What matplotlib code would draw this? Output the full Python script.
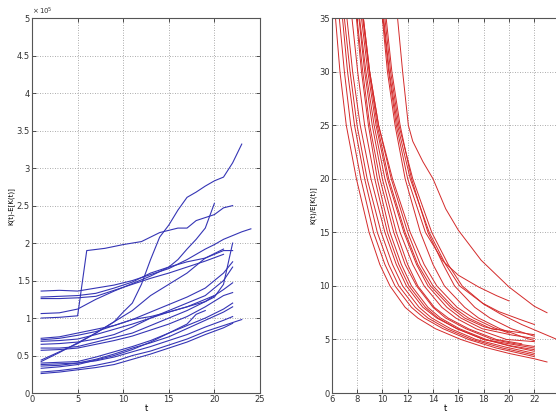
import matplotlib
matplotlib.use("Agg")
import matplotlib.pyplot as plt

# ---- left panel: K(t)-E[K(t)], in units of 1e5 ----
blue_t = [
    [1, 3, 5, 6, 8, 10, 12, 14, 16, 17, 18, 20, 21, 22],
    [1, 3, 5, 7, 9, 10, 11, 12, 13, 14, 15, 16, 17, 18, 19, 20, 21, 22, 23],
    [1, 3, 5, 7, 9, 11, 13, 15, 16, 17, 18, 19, 20],
    [1, 3, 5, 7, 9, 11, 13, 15, 17, 19, 20, 21, 22, 23, 24],
    [1, 3, 5, 7, 9, 11, 13, 15, 17, 19, 21, 22],
    [1, 3, 5, 7, 9, 11, 13, 15, 17, 19, 21],
    [1, 3, 5, 7, 9, 11, 13, 15, 17, 19, 20, 21, 22],
    [1, 3, 5, 7, 9, 11, 13, 15, 17, 19, 21, 22],
    [1, 3, 5, 7, 9, 11, 13, 15, 17, 19, 21, 22],
    [1, 3, 5, 7, 9, 11, 13, 15, 17, 19, 21, 22],
    [1, 3, 5, 7, 9, 11, 13, 15, 17, 19, 21, 22],
    [1, 3, 5, 7, 9, 11, 13, 15, 17, 19, 21],
    [1, 3, 5, 7, 9, 11, 13, 15, 17, 19, 21, 22],
    [1, 3, 5, 7, 9, 11, 13, 15, 17, 19, 21, 22],
    [1, 3, 5, 7, 9, 11, 13, 15, 17, 19, 21, 22],
    [1, 3, 5, 7, 9, 11, 13, 15, 17, 19, 21, 23],
    [1, 3, 5, 7, 9, 11, 13, 15, 17, 19, 21, 22],
    [1, 3, 5, 7, 9, 11, 13, 15, 17, 18, 19],
    [1, 3, 5, 7, 9, 11, 13, 15, 17, 19, 20],
]
blue_y = [
    [1.0, 1.01, 1.03, 1.9, 1.93, 1.98, 2.02, 2.14, 2.2, 2.2, 2.3, 2.38, 2.47, 2.5],
    [0.42, 0.54, 0.67, 0.8, 0.95, 1.08, 1.2, 1.45, 1.78, 2.08, 2.24, 2.44, 2.61, 2.68, 2.76, 2.83, 2.88, 3.07, 3.32],
    [1.06, 1.07, 1.12, 1.25, 1.36, 1.46, 1.56, 1.68, 1.78, 1.92, 2.05, 2.2, 2.53],
    [1.36, 1.37, 1.36, 1.4, 1.44, 1.5, 1.58, 1.66, 1.78, 1.92, 1.98, 2.05, 2.1, 2.15, 2.19],
    [1.28, 1.29, 1.3, 1.33, 1.4, 1.48, 1.6, 1.68, 1.75, 1.8, 1.9, 1.9],
    [1.26, 1.26, 1.27, 1.29, 1.37, 1.45, 1.53, 1.6, 1.68, 1.76, 1.85],
    [0.73, 0.75, 0.8, 0.85, 0.9, 0.98, 1.02, 1.08, 1.15, 1.22, 1.28, 1.45, 2.0],
    [0.71, 0.73, 0.77, 0.82, 0.9, 0.98, 1.08, 1.18, 1.28, 1.4, 1.6, 1.75],
    [0.65, 0.66, 0.68, 0.72, 0.78, 0.88, 1.0, 1.1, 1.2, 1.3, 1.5, 1.68],
    [0.6, 0.6, 0.62, 0.68, 0.74, 0.8, 0.9, 1.0, 1.1, 1.22, 1.38, 1.47],
    [0.57, 0.58, 0.6, 0.65, 0.7, 0.76, 0.84, 0.92, 1.02, 1.15, 1.3, 1.34],
    [0.44, 0.55, 0.66, 0.8, 0.95, 1.1, 1.3, 1.45, 1.6, 1.8, 1.92],
    [0.4, 0.41, 0.42, 0.48, 0.55, 0.62, 0.7, 0.8, 0.9, 1.0, 1.12, 1.2],
    [0.38, 0.39, 0.4, 0.45, 0.52, 0.6, 0.67, 0.75, 0.86, 0.97, 1.08, 1.15],
    [0.36, 0.37, 0.4, 0.43, 0.48, 0.55, 0.62, 0.7, 0.78, 0.88, 0.97, 1.02],
    [0.28, 0.3, 0.33, 0.37, 0.42, 0.5, 0.56, 0.64, 0.72, 0.82, 0.9, 0.98],
    [0.26, 0.28, 0.31, 0.34, 0.38, 0.45, 0.52, 0.6, 0.68, 0.78, 0.87, 0.93],
    [0.33, 0.35, 0.38, 0.44, 0.5, 0.58, 0.68, 0.8, 0.92, 1.05, 1.1],
    [0.69, 0.7, 0.72, 0.78, 0.85, 0.92, 1.0, 1.08, 1.15, 1.25, 1.3],
]

# ---- right panel: K(t)/E[K(t)] ----
red_t = [
    [6.3, 6.65, 7.15, 7.95, 8.95, 9.8, 10.6, 11.8, 12.8, 14.2, 16.2, 18, 20, 22, 23],
    [6.6, 7.0, 7.5, 8.3, 9.3, 10.2, 11.0, 12.3, 13.3, 14.8, 16.8, 19, 22],
    [6.85, 7.25, 7.8, 8.6, 9.6, 10.5, 11.3, 12.6, 13.6, 15.1, 17.1, 19.5, 22],
    [7.0, 7.45, 8.0, 8.8, 9.9, 10.8, 11.6, 12.9, 13.9, 15.4, 17.4, 19.7, 22],
    [7.2, 7.65, 8.25, 9.1, 10.2, 11.1, 11.9, 13.2, 14.3, 15.9, 18, 20.2, 22],
    [7.6, 8.05, 8.6, 9.4, 10.4, 11.3, 12.1, 13.4, 14.4, 15.9, 18.0, 20, 22],
    [7.95, 8.35, 8.9, 9.6, 10.6, 11.5, 12.3, 13.6, 14.6, 16.1, 18.2, 20, 22],
    [8.0, 8.45, 9.0, 9.8, 10.9, 11.8, 12.7, 14.0, 15.0, 16.6, 18.7, 20.5, 22],
    [8.15, 8.6, 9.2, 10.0, 11.1, 12.0, 12.8, 14.1, 15.2, 16.8, 19.0, 21],
    [8.2, 8.7, 9.35, 10.2, 11.4, 12.4, 13.3, 14.7, 15.8, 17.4, 19.8, 22],
    [8.35, 8.85, 9.5, 10.4, 11.7, 12.7, 13.6, 15.1, 16.2, 17.9, 20.3, 22],
    [8.5, 9.0, 9.7, 10.7, 12.0, 13.0, 14.0, 15.6, 16.8, 18.6, 20.5, 22],
    [8.45, 8.95, 9.6, 10.5, 11.8, 12.8, 13.8, 15.4, 16.5, 18, 19],
    [8.5, 9.0, 9.7, 10.8, 12.2, 13.3, 14.3, 15.9, 17.2, 18.8, 20],
    [10.05, 10.5, 11.1, 12.0, 13.4, 14.8, 16.0, 17.6, 19, 20],
    [10.2, 10.65, 11.3, 12.4, 13.9, 15.2, 16.3, 18.0, 19.3, 21.0, 23.8, 24],
    [10.3, 10.75, 11.4, 12.3, 13.6, 14.8, 15.7, 17.3, 18.5, 20.2, 22],
    [10.1, 10.55, 11.2, 12.2, 13.7, 15.0, 16.1, 17.9, 19.2, 20.8, 22],
    [10.0, 10.4, 11.0, 11.8, 13.0, 14.0, 14.9, 16.5, 17.6, 19.3, 21.4, 22],
    [11.2, 11.6, 12.05, 12.4, 13.2, 14.0, 15.0, 16.0, 17.8, 20, 22, 23],
]
red_y = [
    [35, 30, 25, 20, 15, 12, 10, 8, 7, 6, 5, 4.3, 3.7, 3.2, 2.9],
    [35, 30, 25, 20, 15, 12, 10, 8, 7, 6, 5, 4.2, 3.4],
    [35, 30, 25, 20, 15, 12, 10, 8, 7, 6, 5, 4.2, 3.55],
    [35, 30, 25, 20, 15, 12, 10, 8, 7, 6, 5, 4.3, 3.7],
    [35, 30, 25, 20, 15, 12, 10, 8, 7, 6, 5, 4.4, 4.05],
    [35, 30, 25, 20, 15, 12, 10, 8, 7, 6, 5, 4.6, 4.2],
    [35, 30, 25, 20, 15, 12, 10, 8, 7, 6, 5, 4.4, 3.9],
    [35, 30, 25, 20, 15, 12, 10, 8, 7, 6, 5, 4.6, 4.35],
    [35, 30, 25, 20, 15, 12, 10, 8, 7, 6, 5, 4.6],
    [35, 30, 25, 20, 15, 12, 10, 8, 7, 6, 5, 4.8],
    [35, 30, 25, 20, 15, 12, 10, 8, 7, 6, 5.4, 5.1],
    [35, 30, 25, 20, 15, 12, 10, 8, 7, 6, 5.7, 5.45],
    [35, 30, 25, 20, 15, 12, 10, 8, 7, 6.2, 5.9],
    [35, 30, 25, 20, 15, 12, 10, 8, 7, 6.1, 5.6],
    [35, 30, 25, 20, 15, 12.3, 11, 9.9, 9.1, 8.6],
    [35, 30, 25, 20, 15, 12, 10, 8.3, 7.4, 6.4, 5.0, 4.9],
    [35, 30, 25, 20, 15, 12, 10, 8, 7, 6, 5.3],
    [35, 30, 25, 20, 15, 12, 10, 8.4, 7.6, 6.9, 6.4],
    [35, 30, 25, 20, 15, 12, 10, 8, 7, 6, 5.1, 4.9],
    [35, 30, 25, 23.5, 21.6, 20, 17.2, 15.2, 12.4, 9.9, 8.1, 7.5],
]

fig = plt.figure(figsize=(5.56, 4.12), dpi=100)
ax1 = fig.add_axes([0.0576, 0.046, 0.41, 0.910])
ax2 = fig.add_axes([0.5966, 0.046, 0.41, 0.910])

for t, y in zip(blue_t, blue_y):
    ax1.plot(t, y, color="#3535b5", linewidth=0.8)

for t, y in zip(red_t, red_y):
    ax2.plot(t, y, color="#d42a2a", linewidth=0.7)

# MATLAB-like axes
for ax in (ax1, ax2):
    ax.grid(True, linestyle=(0, (1, 2)), color="#909090", linewidth=0.6)
    ax.tick_params(direction="in", top=True, right=True, length=3, width=0.6,
                   labelsize=6, colors="#333333", pad=1.5)
    for sp in ax.spines.values():
        sp.set_color("#555555")
        sp.set_linewidth(0.8)
    ax.set_xlabel("t", fontsize=6)
    ax.xaxis.set_label_coords(0.5, -0.028)

ax1.set_xlim(0, 25)
ax1.set_ylim(0, 5)
ax1.set_xticks(range(0, 26, 5))
ax1.set_yticks([0, 0.5, 1, 1.5, 2, 2.5, 3, 3.5, 4, 4.5, 5])
ax1.set_yticklabels(["0", "0.5", "1", "1.5", "2", "2.5", "3", "3.5", "4", "4.5", "5"])
ax1.set_ylabel("K(t)-E[K(t)]", fontsize=5, labelpad=2)
ax1.text(0.0, 1.003, r"$\times\,10^5$", transform=ax1.transAxes, fontsize=5,
         ha="left", va="bottom", color="#333333")

ax2.set_xlim(6, 24)
ax2.set_ylim(0, 35)
ax2.set_xticks(range(6, 23, 2))
ax2.set_yticks(range(0, 36, 5))
ax2.set_ylabel("K(t)/E[K(t)]", fontsize=5, labelpad=2)

fig.savefig("out.png", dpi=100)
